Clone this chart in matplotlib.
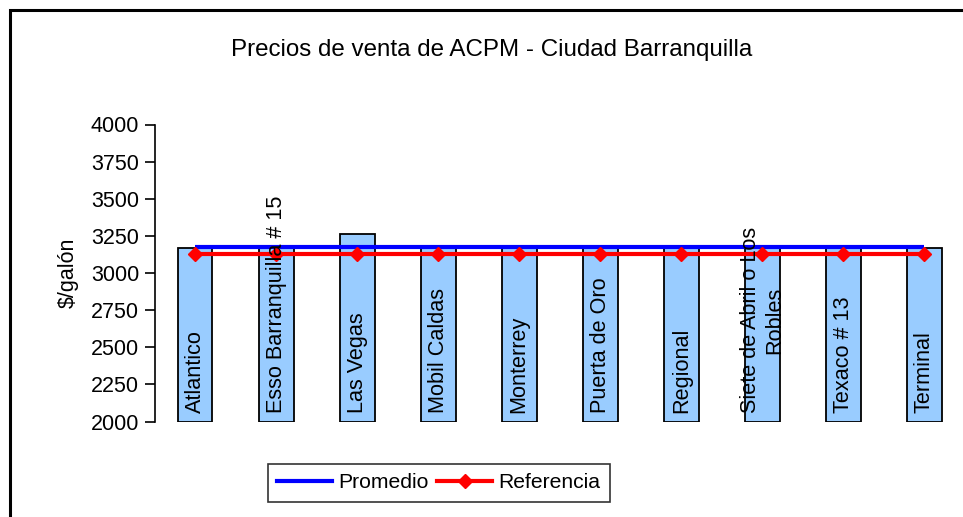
import matplotlib
matplotlib.use("Agg")
import matplotlib.pyplot as plt
from matplotlib.patches import Rectangle
from matplotlib.lines import Line2D

plt.rcParams['font.family'] = ['Liberation Sans', 'DejaVu Sans']

categories = ["Atlantico", "Esso Barranquilla # 15", "Las Vegas", "Mobil Caldas",
              "Monterrey", "Puerta de Oro", "Regional", "Siete de Abril o Los\nRobles",
              "Texaco # 13", "Terminal"]
precios = [3165, 3165, 3265, 3165, 3165, 3165, 3165, 3165, 3165, 3165]
promedio = [sum(precios) / len(precios)] * len(precios)
referencia = [3125] * len(precios)
yticks = [2000, 2250, 2500, 2750, 3000, 3250, 3500, 3750, 4000]

W, H = 963, 517
fig = plt.figure(figsize=(W / 100, H / 100), dpi=100)

ax_left = 154.5 / W
ax_right = 965.0 / W
ax_bottom = (H - 421.5) / H
ax_top = (H - 124.5) / H
ax = fig.add_axes([ax_left, ax_bottom, ax_right - ax_left, ax_top - ax_bottom])

x = list(range(len(categories)))
ax.bar(x, [p - 2000 for p in precios], bottom=2000, width=0.43, color='#99CCFF',
       edgecolor='black', linewidth=1.3, zorder=2)
ax.plot(x, promedio, color='#0000FF', linewidth=3, zorder=3, solid_capstyle='butt')
ax.plot(x, referencia, color='#FF0000', linewidth=3, marker='D', markersize=7,
        zorder=4)

for i, c in enumerate(categories):
    ax.text(i, 2055, c, rotation=90, ha='center', va='bottom', multialignment='center',
            fontsize=15.6, zorder=5)

ax.set_xlim(-0.5, 9.5)
ax.set_ylim(2000, 4000)
ax.set_yticks(yticks)
ax.set_yticklabels([str(t) for t in yticks], fontsize=15.5)
ax.set_xticks([])
for s in ['top', 'right', 'bottom']:
    ax.spines[s].set_visible(False)
ax.spines['left'].set_linewidth(1.2)
ax.tick_params(axis='y', direction='out', length=7, width=1.2, pad=4)
ax.set_ylabel('$/galón', fontsize=15.5)
ax.yaxis.set_label_coords(-0.093, 0.5)

fig.text(491.5 / W, 1 - 50 / H, 'Precios de venta de ACPM - Ciudad Barranquilla',
         ha='center', va='center', fontsize=17.4)

handles = [Line2D([0], [0], color='#0000FF', lw=3),
           Line2D([0], [0], color='#FF0000', lw=3, marker='D', markersize=7)]
leg = fig.legend(handles, ['Promedio', 'Referencia'], loc='center',
                 bbox_to_anchor=(439 / W, 1 - 482.5 / H), ncol=2, fontsize=15.2,
                 frameon=True, fancybox=False, edgecolor='black', handlelength=2.6,
                 columnspacing=0.4, handletextpad=0.3, borderpad=0.45)
leg.get_frame().set_linewidth(1.2)

fig.patches.append(Rectangle((10 / W, -0.1), 1.2, 1 - 10 / H + 0.1,
                             transform=fig.transFigure, fill=False,
                             edgecolor='black', linewidth=2.2, zorder=0))

fig.savefig('out.png', dpi=100)
